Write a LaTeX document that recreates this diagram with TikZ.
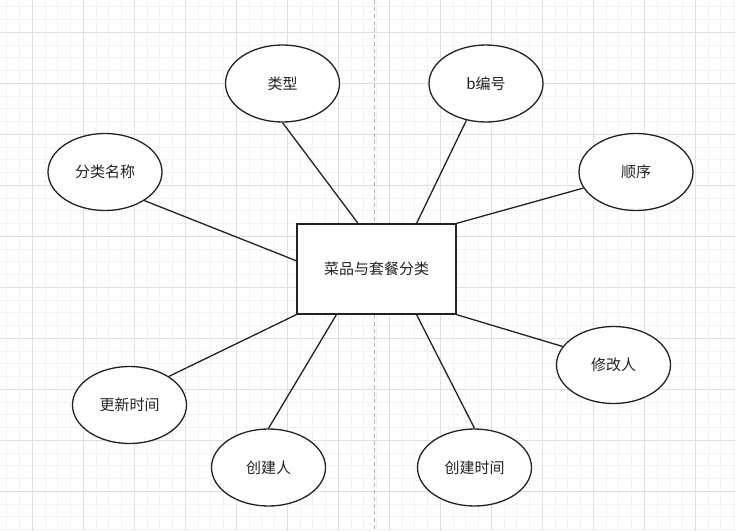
\documentclass[tikz,border=0pt]{standalone}
\usepackage{fontspec}
\newfontfamily\cjk{Noto Sans CJK SC}
\usetikzlibrary{shapes.geometric,calc}
\definecolor{gmajor}{HTML}{E0E0E0}
\definecolor{gminor}{HTML}{F2F2F2}
\definecolor{ink}{HTML}{222222}
\tikzset{
  attr/.style={ellipse,draw=ink,line width=1.3pt,fill=white,minimum width=114pt,minimum height=77pt,inner sep=0pt,font=\cjk\fontsize{15}{17}\selectfont,text=ink},
  entity/.style={rectangle,draw=ink,line width=1.3pt,fill=white,minimum width=159pt,minimum height=90pt,inner sep=0pt,font=\cjk\fontsize{15}{17}\selectfont,text=ink},
  link/.style={draw=ink,line width=1.3pt},
  minorline/.style={draw=gminor,line width=0.8pt},
  majorline/.style={draw=gmajor,line width=0.9pt}
}
\begin{document}
\begin{tikzpicture}[x=1pt,y=-1pt]
\useasboundingbox (0,0) rectangle (741,532);
\fill[white] (0,0) rectangle (741,532);
% grid minor
\foreach \k in {0,...,57} {
  \pgfmathsetmacro{\xx}{6.8+12.75*\k}
  \draw[minorline] (\xx,0) -- (\xx,530);
}
\foreach \k in {0,...,41} {
  \pgfmathsetmacro{\yy}{6.7+12.75*\k}
  \draw[minorline] (0,\yy) -- (735,\yy);
}
% grid major
\foreach \k in {2,6,...,57} {
  \pgfmathsetmacro{\xx}{6.8+12.75*\k}
  \draw[majorline] (\xx,0) -- (\xx,530);
}
\foreach \k in {2,6,...,41} {
  \pgfmathsetmacro{\yy}{6.7+12.75*\k}
  \draw[majorline] (0,\yy) -- (735,\yy);
}
% center dashed guide
\draw[draw=gray!60,line width=0.8pt,dash pattern=on 4pt off 3pt] (374.3,0) -- (374.3,532);

\node[entity] (c) at (376.5,269) {菜品与套餐分类};
\node[attr] (lx) at (282.5,83.5) {类型};
\node[attr] (bh) at (486,83.5) {b编号};
\node[attr] (fl) at (105,172) {分类名称};
\node[attr] (sx) at (636,172) {顺序};
\node[attr] (xg) at (613.5,365) {修改人};
\node[attr] (gx) at (129.5,405) {更新时间};
\node[attr] (cj) at (268.5,467.5) {创建人};
\node[attr] (cs) at (474.5,467.5) {创建时间};

\draw[link] (lx.south) -- ($(c.north west)!0.385!(c.north east)$);
\draw[link] (bh.242) -- ($(c.north west)!0.75!(c.north east)$);
\draw[link] (fl.324) -- ($(c.north west)!0.41!(c.south west)$);
\draw[link] (sx.197) -- (c.north east);
\draw[link] (xg.160) -- (c.south east);
\draw[link] (gx.36) -- (c.south west);
\draw[link] (cj.north) -- ($(c.south west)!0.25!(c.south east)$);
\draw[link] (cs.north) -- ($(c.south west)!0.75!(c.south east)$);
\end{tikzpicture}
\end{document}
